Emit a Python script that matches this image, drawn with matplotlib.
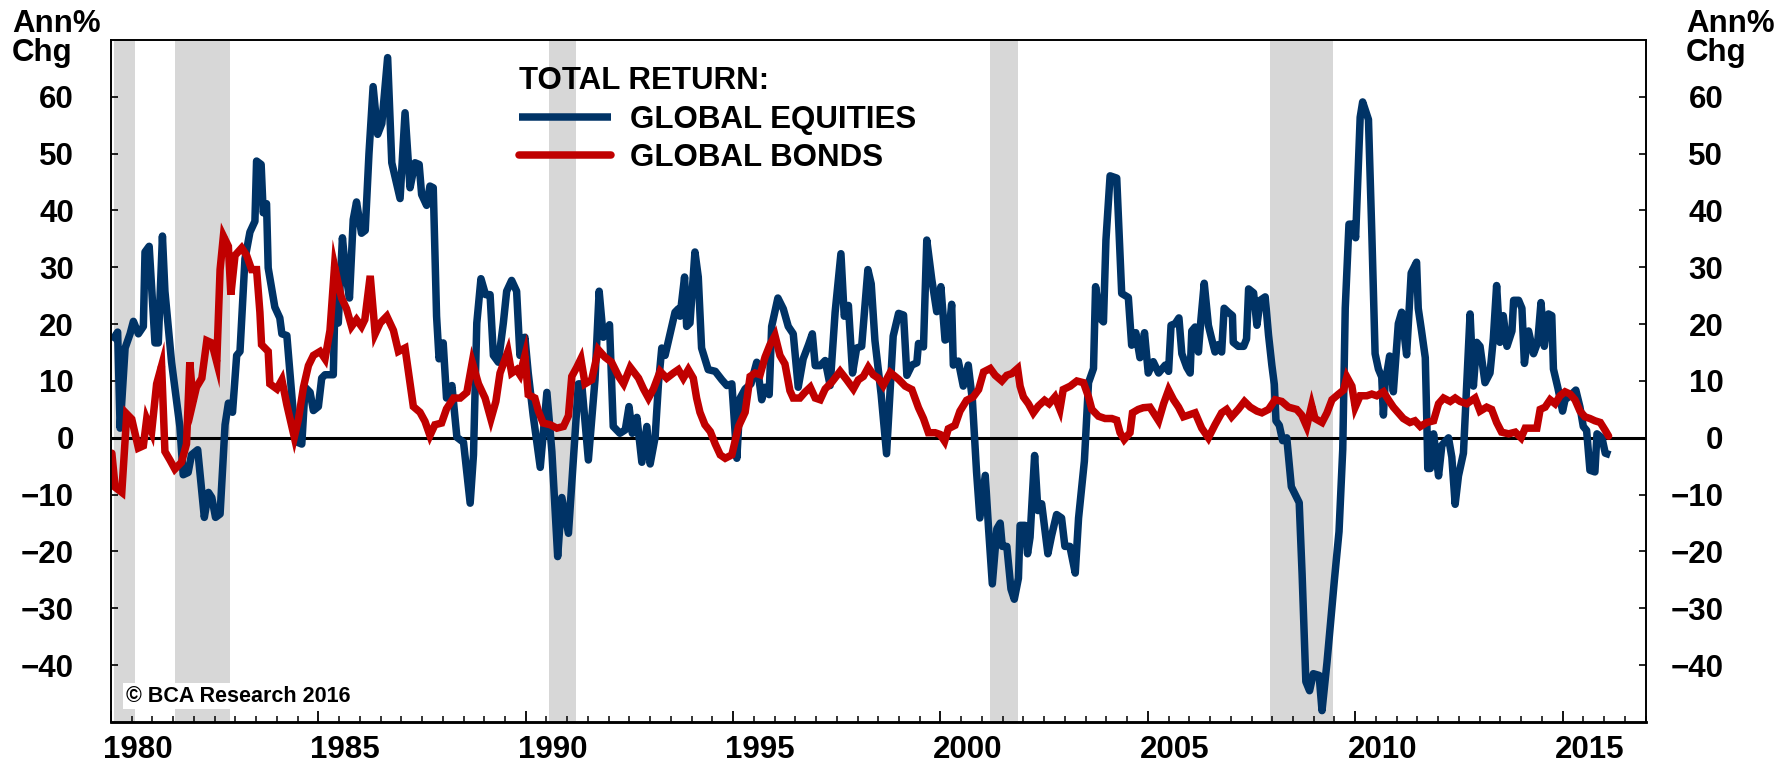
import matplotlib
matplotlib.use("Agg")
import matplotlib.pyplot as plt
from matplotlib.ticker import MultipleLocator
from matplotlib.transforms import ScaledTranslation

plt.rcParams['font.family'] = ['Liberation Sans', 'DejaVu Sans']
plt.rcParams['font.weight'] = 'bold'

# global equities, total return, annual % change
eq_years = [
    1980.03, 1980.16, 1980.22, 1980.34, 1980.46, 1980.54, 1980.66, 1980.78, 1980.82, 1980.92,
    1981.06, 1981.14, 1981.24, 1981.30, 1981.46, 1981.66, 1981.74, 1981.86, 1981.94, 1982.09,
    1982.25, 1982.35, 1982.43, 1982.52, 1982.63, 1982.75, 1982.83, 1982.93, 1983.03, 1983.11,
    1983.23, 1983.35, 1983.47, 1983.51, 1983.62, 1983.67, 1983.75, 1983.79, 1983.95, 1984.07,
    1984.12, 1984.24, 1984.40, 1984.50, 1984.60, 1984.68, 1984.80, 1984.88, 1985.00, 1985.08,
    1985.16, 1985.36, 1985.40, 1985.48, 1985.58, 1985.66, 1985.75, 1985.84, 1985.92, 1986.04,
    1986.13, 1986.22, 1986.32, 1986.43, 1986.53, 1986.67, 1986.77, 1986.97, 1987.09, 1987.21,
    1987.33, 1987.43, 1987.49, 1987.61, 1987.69, 1987.77, 1987.85, 1987.91, 1988.01, 1988.09,
    1988.22, 1988.34, 1988.50, 1988.66, 1988.74, 1988.82, 1988.92, 1989.03, 1989.14, 1989.22,
    1989.34, 1989.46, 1989.54, 1989.66, 1989.78, 1989.86, 1989.98, 1990.06, 1990.18, 1990.35,
    1990.51, 1990.63, 1990.77, 1990.87, 1991.03, 1991.15, 1991.27, 1991.35, 1991.51, 1991.67,
    1991.77, 1991.87, 1992.02, 1992.11, 1992.27, 1992.40, 1992.49, 1992.57, 1992.68, 1992.80,
    1992.92, 1993.00, 1993.12, 1993.20, 1993.28, 1993.36, 1993.48, 1993.60, 1993.68, 1993.72,
    1993.83, 1993.88, 1993.96, 1994.08, 1994.16, 1994.24, 1994.40, 1994.57, 1994.73, 1994.85,
    1994.97, 1995.09, 1995.17, 1995.29, 1995.43, 1995.57, 1995.69, 1995.77, 1995.87, 1995.93,
    1996.08, 1996.21, 1996.33, 1996.45, 1996.57, 1996.69, 1996.82, 1996.91, 1996.98, 1997.10,
    1997.22, 1997.34, 1997.46, 1997.60, 1997.68, 1997.78, 1997.88, 1997.98, 1998.10, 1998.25,
    1998.33, 1998.42, 1998.57, 1998.70, 1998.86, 1998.99, 1999.11, 1999.19, 1999.31, 1999.43,
    1999.47, 1999.59, 1999.67, 1999.79, 1999.91, 2000.01, 2000.11, 2000.19, 2000.27, 2000.31,
    2000.43, 2000.55, 2000.67, 2000.77, 2000.87, 2000.95, 2001.08, 2001.16, 2001.25, 2001.36,
    2001.44, 2001.49, 2001.60, 2001.70, 2001.78, 2001.88, 2001.92, 2002.04, 2002.10, 2002.16,
    2002.27, 2002.35, 2002.44, 2002.59, 2002.68, 2002.80, 2002.92, 2003.00, 2003.12, 2003.25,
    2003.33, 2003.47, 2003.57, 2003.69, 2003.74, 2003.85, 2003.93, 2003.99, 2004.09, 2004.25,
    2004.37, 2004.53, 2004.61, 2004.71, 2004.81, 2004.92, 2005.01, 2005.13, 2005.26, 2005.42,
    2005.50, 2005.56, 2005.66, 2005.75, 2005.82, 2005.94, 2006.02, 2006.06, 2006.14, 2006.22,
    2006.28, 2006.36, 2006.46, 2006.54, 2006.62, 2006.70, 2006.78, 2006.84, 2006.94, 2007.04,
    2007.06, 2007.18, 2007.31, 2007.38, 2007.43, 2007.55, 2007.63, 2007.71, 2007.83, 2007.91,
    2007.99, 2008.05, 2008.09, 2008.17, 2008.25, 2008.35, 2008.46, 2008.65, 2008.72, 2008.81,
    2008.90, 2008.99, 2009.13, 2009.20, 2009.32, 2009.50, 2009.61, 2009.70, 2009.76, 2009.85,
    2009.96, 2010.01, 2010.12, 2010.18, 2010.32, 2010.40, 2010.48, 2010.56, 2010.64, 2010.68,
    2010.72, 2010.83, 2010.92, 2011.04, 2011.12, 2011.24, 2011.35, 2011.48, 2011.52, 2011.60,
    2011.69, 2011.73, 2011.75, 2011.81, 2011.89, 2012.01, 2012.09, 2012.25, 2012.33, 2012.41,
    2012.49, 2012.61, 2012.69, 2012.77, 2012.85, 2012.93, 2013.01, 2013.13, 2013.25, 2013.33,
    2013.41, 2013.49, 2013.57, 2013.66, 2013.78, 2013.82, 2013.94, 2014.02, 2014.08, 2014.18,
    2014.30, 2014.40, 2014.48, 2014.56, 2014.66, 2014.74, 2014.78, 2014.89, 2015.00, 2015.06,
    2015.18, 2015.32, 2015.42, 2015.50, 2015.58, 2015.66, 2015.78, 2015.83, 2015.95, 2016.03,
    2016.15,
]
eq_vals = [
    17.1, 18.6, 1.7, 15.8, 18.3, 20.5, 18.3, 19.6, 32.7, 33.7,
    16.7, 16.7, 35.5, 25.8, 13.3, 2.0, -6.5, -6.1, -3.0, -2.1,
    -14.0, -9.6, -10.5, -14.0, -13.4, 2.3, 6.1, 4.5, 14.5, 15.2,
    31.5, 36.2, 38.1, 48.7, 48.1, 39.6, 41.2, 29.9, 23.0, 21.1,
    18.3, 18.0, 3.9, -0.8, -1.1, 8.9, 8.0, 4.8, 5.5, 10.5,
    11.1, 11.1, 23.9, 20.2, 35.2, 29.0, 24.6, 38.4, 41.5, 36.0,
    36.5, 50.0, 61.8, 53.4, 55.3, 66.9, 48.4, 42.1, 57.2, 44.0,
    48.4, 48.1, 42.8, 40.9, 44.3, 44.0, 21.4, 13.9, 16.7, 7.0,
    9.2, 0.1, -0.8, -11.5, -3.0, 20.2, 28.0, 25.2, 25.2, 14.5,
    13.3, 20.2, 25.8, 27.7, 25.8, 14.5, 17.7, 11.4, 3.9, -5.2,
    8.0, -2.4, -20.9, -10.5, -16.8, -3.6, 9.5, 9.5, -3.9, 10.2,
    25.8, 17.7, 19.9, 2.0, 0.8, 1.4, 5.5, 0.8, 3.6, -4.3,
    2.0, -4.6, 0.1, 9.5, 15.8, 14.5, 18.3, 22.1, 22.7, 21.4,
    28.3, 19.6, 20.2, 32.7, 28.3, 15.8, 12.0, 11.7, 10.2, 9.2,
    9.5, -3.6, 7.0, 8.6, 9.5, 13.3, 6.7, 8.9, 7.6, 19.6,
    24.6, 22.7, 19.6, 18.3, 8.9, 13.9, 16.4, 18.3, 12.7, 12.7,
    13.6, 9.2, 22.1, 32.4, 21.4, 23.3, 11.4, 15.8, 16.1, 29.6,
    27.1, 17.1, 7.6, -2.8, 17.9, 21.9, 21.6, 11.0, 12.8, 13.2,
    16.6, 16.0, 34.8, 27.9, 22.2, 26.6, 17.2, 17.5, 23.5, 12.8,
    13.5, 9.1, 12.8, 6.6, -6.0, -14.1, -6.6, -16.0, -25.7, -16.0,
    -15.0, -19.1, -19.1, -26.6, -28.4, -24.7, -15.4, -15.4, -20.4, -17.5,
    -3.1, -12.8, -11.6, -20.4, -17.2, -13.5, -14.1, -19.1, -19.1, -23.8,
    -14.1, -4.1, 9.7, 12.2, 26.6, 21.0, 20.4, 34.8, 46.1, 45.7,
    25.4, 24.7, 16.3, 18.5, 14.1, 18.5, 11.4, 13.4, 11.4, 12.8,
    11.7, 19.8, 20.1, 21.1, 14.8, 12.4, 11.4, 18.8, 19.5, 15.1,
    20.8, 27.2, 19.8, 17.4, 15.1, 16.4, 15.1, 22.8, 22.1, 21.5,
    16.8, 16.1, 16.1, 17.4, 26.2, 25.5, 19.8, 24.2, 24.8, 18.1,
    12.8, 9.4, 3.0, 2.2, -0.5, 0.0, -8.6, -11.4, -24.0, -42.9,
    -44.5, -41.5, -41.8, -48.0, -39.5, -24.9, -16.5, -2.0, 22.8, 37.6,
    37.6, 35.2, 56.4, 59.1, 56.0, 36.2, 14.8, 12.1, 10.7, 4.0,
    9.4, 14.4, 8.1, 20.1, 22.1, 14.6, 29.0, 30.9, 22.8, 18.8,
    14.1, 2.0, -5.4, -5.4, 0.7, -6.7, -1.3, 0.0, -3.4, -11.7,
    -6.7, -2.7, 9.4, 21.8, 9.1, 16.8, 16.1, 9.7, 11.4, 17.4,
    26.8, 16.8, 21.5, 16.1, 18.8, 24.2, 24.2, 22.8, 13.1, 18.8,
    14.8, 16.8, 23.8, 16.1, 21.8, 21.5, 12.1, 8.7, 4.7, 6.7,
    7.4, 8.4, 5.4, 2.0, 1.3, -5.7, -6.0, 0.7, 0.0, -2.7,
    -3.0,
]

# global bonds, total return, annual % change
bd_years = [
    1980.02, 1980.10, 1980.26, 1980.38, 1980.50, 1980.66, 1980.78, 1980.86, 1980.98, 1981.10,
    1981.22, 1981.30, 1981.42, 1981.54, 1981.70, 1981.82, 1981.90, 1981.98, 1982.06, 1982.19,
    1982.31, 1982.43, 1982.55, 1982.63, 1982.71, 1982.83, 1982.89, 1982.99, 1983.15, 1983.27,
    1983.39, 1983.51, 1983.59, 1983.63, 1983.79, 1983.83, 1984.00, 1984.12, 1984.24, 1984.42,
    1984.52, 1984.64, 1984.76, 1984.88, 1985.04, 1985.16, 1985.28, 1985.39, 1985.48, 1985.56,
    1985.68, 1985.80, 1985.92, 1986.04, 1986.12, 1986.25, 1986.37, 1986.49, 1986.65, 1986.81,
    1986.93, 1987.09, 1987.29, 1987.45, 1987.57, 1987.69, 1987.81, 1987.97, 1988.09, 1988.26,
    1988.42, 1988.58, 1988.71, 1988.86, 1989.02, 1989.16, 1989.28, 1989.38, 1989.57, 1989.66,
    1989.78, 1989.86, 1989.98, 1990.06, 1990.22, 1990.30, 1990.42, 1990.59, 1990.75, 1990.91,
    1991.03, 1991.11, 1991.23, 1991.33, 1991.43, 1991.59, 1991.75, 1991.91, 1992.07, 1992.24,
    1992.36, 1992.52, 1992.72, 1992.84, 1992.96, 1993.08, 1993.24, 1993.40, 1993.56, 1993.68,
    1993.80, 1993.92, 1994.04, 1994.12, 1994.20, 1994.32, 1994.45, 1994.57, 1994.69, 1994.81,
    1994.97, 1995.13, 1995.29, 1995.41, 1995.53, 1995.65, 1995.77, 1995.89, 1996.01, 1996.13,
    1996.25, 1996.37, 1996.45, 1996.61, 1996.73, 1996.86, 1996.98, 1997.10, 1997.22, 1997.38,
    1997.58, 1997.74, 1997.90, 1998.02, 1998.14, 1998.26, 1998.38, 1998.50, 1998.62, 1998.79,
    1998.99, 1999.15, 1999.31, 1999.47, 1999.59, 1999.71, 1999.87, 1999.99, 2000.10, 2000.19,
    2000.35, 2000.47, 2000.63, 2000.79, 2000.92, 2001.04, 2001.20, 2001.32, 2001.48, 2001.60,
    2001.72, 2001.86, 2001.92, 2002.00, 2002.12, 2002.24, 2002.36, 2002.51, 2002.62, 2002.76,
    2002.88, 2002.96, 2003.13, 2003.29, 2003.45, 2003.57, 2003.65, 2003.81, 2003.97, 2004.13,
    2004.25, 2004.33, 2004.43, 2004.57, 2004.63, 2004.77, 2004.89, 2005.05, 2005.26, 2005.38,
    2005.50, 2005.62, 2005.74, 2005.86, 2005.98, 2006.14, 2006.30, 2006.46, 2006.62, 2006.78,
    2006.90, 2007.02, 2007.18, 2007.33, 2007.47, 2007.63, 2007.75, 2007.91, 2008.07, 2008.23,
    2008.39, 2008.59, 2008.71, 2008.83, 2008.95, 2009.03, 2009.20, 2009.32, 2009.44, 2009.60,
    2009.72, 2009.80, 2009.92, 2010.00, 2010.12, 2010.28, 2010.40, 2010.52, 2010.68, 2010.80,
    2010.92, 2011.04, 2011.16, 2011.32, 2011.44, 2011.57, 2011.73, 2011.89, 2012.01, 2012.13,
    2012.29, 2012.41, 2012.53, 2012.69, 2012.89, 2013.01, 2013.17, 2013.29, 2013.41, 2013.53,
    2013.70, 2013.86, 2014.00, 2014.10, 2014.26, 2014.38, 2014.46, 2014.58, 2014.70, 2014.82,
    2014.94, 2015.06, 2015.18, 2015.30, 2015.42, 2015.54, 2015.66, 2015.78, 2015.91, 2016.03,
    2016.11,
]
bd_vals = [
    -2.7, -8.7, -9.6, 4.2, 3.3, -1.8, -1.4, 3.3, 1.1, 9.5,
    12.7, -2.4, -3.9, -5.5, -4.3, -1.1, 13.3, 6.4, 8.9, 10.5,
    17.1, 16.7, 13.3, 29.6, 35.5, 33.7, 25.2, 32.1, 33.4, 32.1,
    29.6, 29.6, 22.1, 16.4, 15.2, 9.5, 8.6, 10.2, 5.8, 0.1,
    3.3, 8.9, 12.7, 14.5, 15.2, 13.9, 18.9, 30.2, 27.1, 24.6,
    22.7, 19.6, 20.8, 19.6, 20.8, 28.5, 18.3, 20.2, 21.4, 18.9,
    15.2, 15.8, 5.5, 4.5, 2.9, 0.4, 2.3, 2.6, 5.1, 7.0,
    7.0, 8.0, 13.3, 9.5, 7.0, 3.3, 6.4, 11.4, 15.2, 11.4,
    12.0, 11.1, 14.5, 7.6, 7.0, 4.8, 2.6, 2.3, 1.7, 2.0,
    3.9, 10.8, 12.4, 13.9, 9.5, 10.2, 15.5, 14.2, 13.3, 10.8,
    9.5, 12.4, 10.5, 8.6, 7.0, 8.6, 11.7, 10.5, 11.4, 12.0,
    10.5, 12.0, 10.5, 7.0, 4.5, 2.3, 1.1, -1.1, -3.0, -3.6,
    -3.0, 2.0, 4.5, 10.8, 11.4, 11.1, 14.2, 16.4, 18.0, 14.5,
    13.0, 8.3, 7.0, 7.0, 8.0, 8.9, 7.0, 6.7, 8.6, 9.8,
    11.7, 10.2, 8.6, 10.2, 10.8, 12.4, 11.1, 10.5, 9.2, 11.5,
    10.3, 9.1, 8.5, 5.3, 3.4, 0.9, 0.9, 0.6, -0.6, 1.6,
    2.2, 4.7, 6.6, 7.2, 8.5, 11.6, 12.2, 11.0, 10.0, 11.0,
    11.3, 12.2, 9.1, 7.2, 6.0, 4.4, 5.6, 6.6, 6.0, 7.2,
    5.0, 8.5, 9.1, 10.0, 9.7, 7.2, 5.0, 3.8, 3.4, 3.4,
    3.1, 0.9, -0.3, 0.9, 4.4, 5.0, 5.3, 5.4, 3.0, 6.0,
    8.4, 6.7, 5.4, 3.7, 4.0, 4.4, 1.7, 0.0, 2.3, 4.4,
    5.0, 3.7, 5.0, 6.4, 5.4, 4.7, 4.4, 5.0, 6.7, 6.4,
    5.4, 5.0, 4.0, 2.0, 5.7, 3.4, 2.7, 4.4, 6.7, 7.7,
    8.4, 10.7, 9.1, 5.4, 7.4, 7.4, 7.7, 7.4, 8.1, 6.7,
    5.4, 4.4, 3.4, 2.7, 3.0, 2.0, 2.7, 3.0, 6.0, 7.0,
    6.4, 7.0, 6.4, 6.0, 7.0, 4.7, 5.4, 5.0, 2.7, 1.0,
    0.7, 1.0, 0.0, 1.7, 1.7, 1.7, 5.0, 5.4, 6.7, 6.0,
    7.4, 8.1, 7.7, 6.7, 4.7, 3.7, 3.4, 3.0, 2.7, 1.3,
    0.3,
]

# shaded recessions (start, end)
rec_start = [1980.08, 1981.55, 1990.55, 2001.20, 2007.95]
rec_end = [1980.58, 1982.88, 1991.22, 2001.87, 2009.47]

year_ticks = list(range(1980, 2016, 5))
year_labels = [str(y) for y in year_ticks]
y_ticks = list(range(-40, 61, 10))

blue = '#003366'
red = '#C00000'
band = '#D7D7D7'
fs = 22.5

fig = plt.figure(figsize=(17.89, 7.63), dpi=100)
ax = fig.add_axes([0.06205, 0.05374, 0.85774, 0.89384])

for s, e in zip(rec_start, rec_end):
    ax.axvspan(s, e, color=band, lw=0, zorder=0)

ax.axhline(0, color='black', lw=2.2, zorder=1)
l_eq, = ax.plot(eq_years, eq_vals, color=blue, lw=5.4, solid_joinstyle='round',
                solid_capstyle='butt', zorder=3, label='GLOBAL EQUITIES')
l_bd, = ax.plot(bd_years, bd_vals, color=red, lw=5.4, solid_joinstyle='miter',
                solid_capstyle='round', zorder=4, label='GLOBAL BONDS')

ax.set_xlim(1980, 2017)
ax.set_ylim(-50, 70)

ax.set_xticks(year_ticks, year_labels)
ax.xaxis.set_minor_locator(MultipleLocator(0.5))
ax.tick_params(axis='x', which='major', direction='in', length=8, width=1.3,
               labelsize=fs, pad=9.5, top=False)
ax.tick_params(axis='x', which='minor', direction='in', length=4.5, width=1.1, top=False)
shift = ScaledTranslation(27 / 100, 0, fig.dpi_scale_trans)
for lab in ax.get_xticklabels():
    lab.set_transform(lab.get_transform() + shift)

ax.set_yticks(y_ticks)
ax.tick_params(axis='y', direction='in', length=5, width=1.2, labelsize=fs, pad=26.6)

ax2 = ax.twinx()
ax2.set_ylim(-50, 70)
ax2.set_yticks(y_ticks)
ax2.tick_params(axis='y', direction='in', length=5, width=1.2, labelsize=fs, pad=56)
for lab in ax2.get_yticklabels():
    lab.set_horizontalalignment('right')

for a in (ax, ax2):
    for sp in a.spines.values():
        sp.set_linewidth(1.2)
    a.spines['bottom'].set_linewidth(1.8)

leg = ax.legend(handles=[l_eq, l_bd], title='TOTAL RETURN:', loc='upper left',
                bbox_to_anchor=(0.2656, 0.962), frameon=False, fontsize=fs,
                title_fontproperties={'size': fs, 'weight': 'bold'},
                handlelength=2.95, handletextpad=0.6, labelspacing=0.28,
                borderpad=0, borderaxespad=0, alignment='left')
leg.set_zorder(6)

ax.text(0.0098, 0.0298, '\u00a9 BCA Research 2016', transform=ax.transAxes,
        fontsize=15.5, ha='left', va='baseline', zorder=7,
        bbox=dict(facecolor='white', edgecolor='none', pad=2))

for xl in (12 / 1789, 1686 / 1789):
    fig.text(xl, 1 - 31.9 / 763, 'Ann%', fontsize=fs, ha='left', va='baseline')
    fig.text(xl, 1 - 61.2 / 763, 'Chg', fontsize=fs, ha='left', va='baseline')

fig.savefig('out.png', dpi=100)
